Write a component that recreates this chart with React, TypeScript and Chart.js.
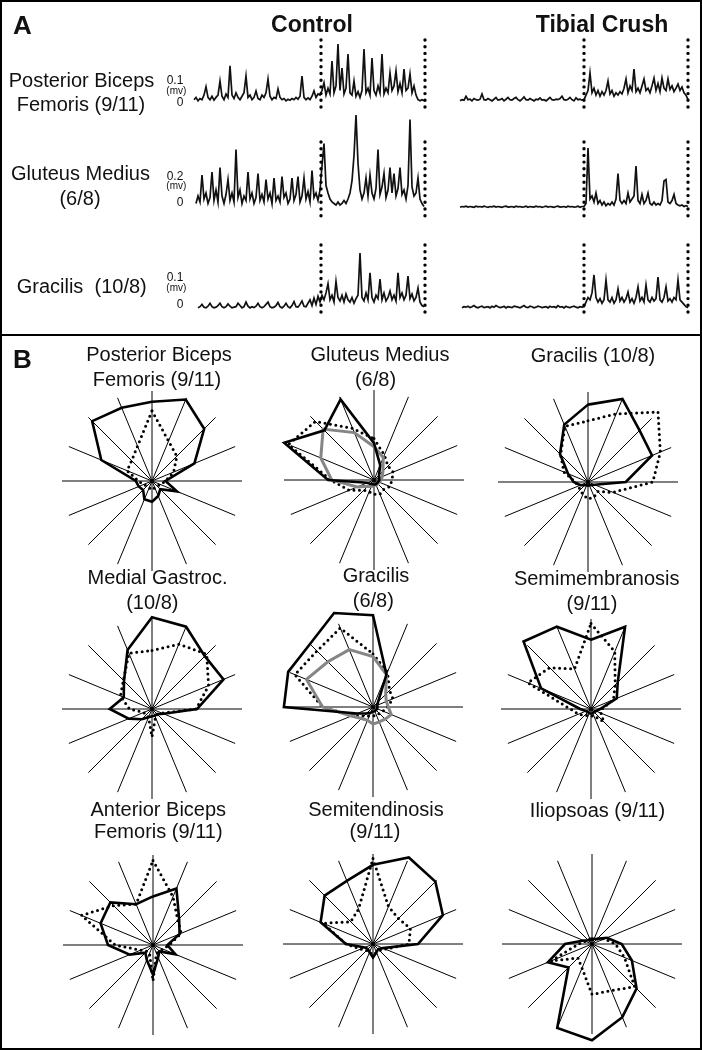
import React, { useEffect, useRef } from 'react';
import { Chart, registerables } from 'chart.js';

Chart.register(...registerables);

const FONT = '"Liberation Sans", Arial, Helvetica, sans-serif';

// ---------------- Panel A : EMG traces (values in mV, one sample every 2 px) ----------------
const CTRL_PBF = [0.01,0.02,0.005,0.015,0.01,0.03,0.066,0.02,0.01,0.025,
  0.008,0.02,0.03,0.091,0.025,0.01,0.035,0.02,0.157,0.03,
  0.015,0.04,0.02,0.01,0.025,0.04,0.113,0.02,0.03,0.01,
  0.02,0.048,0.015,0.01,0.03,0.02,0.04,0.10,0.025,0.01,
  0.02,0.015,0.057,0.02,0.01,0.015,0.005,0.012,0.008,0.015,
  0.01,0.02,0.012,0.025,0.113,0.02,0.01,0.018,0.01,0.025,
  0.048,0.02,0.035,0.03,0.05,0.083,0.03,0.06,0.035,0.178,
  0.04,0.07,0.252,0.05,0.148,0.035,0.06,0.209,0.04,0.03,
  0.091,0.025,0.045,0.02,0.05,0.23,0.04,0.06,0.03,0.191,
  0.05,0.03,0.07,0.04,0.209,0.035,0.06,0.04,0.126,0.05,
  0.07,0.135,0.045,0.08,0.04,0.143,0.05,0.06,0.122,0.04,
  0.07,0.03,0.01,0.005,0.01,0.005];
const TIB_PBF = [0.005,0.01,0.008,0.025,0.01,0.012,0.005,0.015,0.01,0.008,
  0.012,0.035,0.01,0.008,0.015,0.01,0.005,0.012,0.02,0.008,
  0.01,0.015,0.005,0.012,0.02,0.01,0.008,0.015,0.02,0.01,
  0.005,0.012,0.022,0.01,0.008,0.015,0.01,0.005,0.012,0.01,
  0.018,0.008,0.01,0.005,0.012,0.02,0.01,0.008,0.012,0.01,
  0.015,0.025,0.01,0.008,0.012,0.02,0.01,0.005,0.018,0.01,
  0.012,0.008,0.01,0.03,0.05,0.126,0.04,0.06,0.03,0.05,
  0.025,0.045,0.03,0.05,0.091,0.035,0.05,0.025,0.04,0.03,
  0.045,0.035,0.06,0.10,0.04,0.07,0.05,0.143,0.045,0.06,
  0.04,0.07,0.10,0.05,0.06,0.04,0.07,0.104,0.05,0.08,
  0.045,0.104,0.06,0.05,0.10,0.055,0.07,0.045,0.06,0.078,
  0.05,0.065,0.04,0.03,0.01];
const CTRL_GMED = [null,0.03,0.08,0.04,0.22,0.06,0.1,0.03,0.07,0.24,
  0.05,0.12,0.04,0.27,0.08,0.03,0.09,0.19,0.05,0.1,
  0.04,0.39,0.07,0.12,0.03,0.08,0.05,0.24,0.06,0.1,
  0.03,0.07,0.23,0.05,0.09,0.04,0.19,0.06,0.1,0.03,
  0.2,0.05,0.08,0.04,0.21,0.07,0.1,0.03,0.06,0.2,
  0.05,0.09,0.21,0.04,0.08,0.2,0.06,0.11,0.04,0.25,
  0.07,0.1,0.05,0.12,0.28,0.43,0.15,0.1,0.06,0.04,
  0.03,0.02,0.04,0.02,0.03,0.05,0.03,0.06,0.1,0.18,
  0.35,0.62,0.3,0.12,0.06,0.1,0.2,0.08,0.22,0.1,
  0.06,0.13,0.39,0.09,0.14,0.23,0.07,0.12,0.27,0.1,
  0.23,0.08,0.13,0.27,0.09,0.12,0.06,0.15,0.59,0.14,
  0.08,0.1,0.2,0.06,0.03,0.01];
const TIB_GMED = [0.005,0.01,0.008,0.012,0.006,0.01,0.008,0.005,0.012,0.008,
  0.01,0.006,0.012,0.008,0.005,0.01,0.008,0.012,0.006,0.01,
  0.008,0.005,0.01,0.012,0.006,0.008,0.01,0.005,0.012,0.008,
  0.01,0.006,0.008,0.012,0.005,0.01,0.008,0.006,0.012,0.008,
  0.01,0.005,0.008,0.012,0.006,0.01,0.008,0.005,0.01,0.012,
  0.006,0.008,0.01,0.005,0.012,0.008,0.01,0.006,0.008,0.012,
  0.005,0.01,0.01,0.03,0.40,0.06,0.08,0.04,0.1,0.03,
  0.05,0.02,0.04,0.015,0.03,0.02,0.04,0.02,0.06,0.23,
  0.05,0.03,0.05,0.03,0.1,0.04,0.06,0.08,0.28,0.05,
  0.03,0.09,0.03,0.05,0.1,0.03,0.02,0.04,0.02,0.03,
  0.02,0.05,0.18,0.19,0.04,0.03,0.05,0.09,0.03,0.02,
  0.015,0.02,0.01,0.015,0.01];
const CTRL_GRAC = [null,null,0.005,0.01,0.02,0.008,0.005,0.012,0.025,0.01,
  0.005,0.008,0.015,0.025,0.01,0.005,0.01,0.022,0.012,0.005,
  0.008,0.01,0.025,0.015,0.005,0.01,0.03,0.012,0.005,0.01,
  0.006,0.012,0.025,0.01,0.005,0.01,0.02,0.03,0.01,0.005,
  0.008,0.015,0.028,0.01,0.005,0.012,0.025,0.01,0.005,0.015,
  0.032,0.01,0.008,0.02,0.035,0.012,0.01,0.025,0.04,0.015,
  0.048,0.02,0.055,0.03,0.06,0.04,0.07,0.11,0.04,0.06,
  0.03,0.12,0.05,0.035,0.06,0.03,0.065,0.04,0.03,0.05,
  0.025,0.045,0.06,0.243,0.05,0.035,0.07,0.04,0.157,0.05,
  0.03,0.06,0.045,0.13,0.04,0.07,0.035,0.05,0.078,0.04,
  0.06,0.035,0.157,0.05,0.07,0.04,0.06,0.143,0.045,0.065,
  0.035,0.05,0.091,0.03,0.015,0.01];
const TIB_GRAC = [null,0.005,0.01,0.008,0.012,0.006,0.01,0.015,0.008,0.005,
  0.01,0.012,0.006,0.008,0.01,0.005,0.012,0.008,0.015,0.01,
  0.006,0.008,0.012,0.005,0.01,0.008,0.006,0.012,0.01,0.008,
  0.005,0.01,0.015,0.008,0.006,0.012,0.01,0.005,0.008,0.012,
  0.01,0.006,0.008,0.01,0.005,0.012,0.008,0.01,0.006,0.015,
  0.008,0.01,0.005,0.012,0.008,0.006,0.01,0.012,0.008,0.005,
  0.01,0.008,0.01,0.03,0.05,0.04,0.07,0.148,0.05,0.03,
  0.045,0.025,0.04,0.126,0.04,0.03,0.05,0.025,0.04,0.087,
  0.035,0.05,0.03,0.045,0.074,0.03,0.045,0.025,0.05,0.096,
  0.035,0.05,0.03,0.104,0.04,0.03,0.05,0.035,0.045,0.139,
  0.04,0.03,0.05,0.096,0.035,0.045,0.03,0.05,0.04,0.126,
  0.04,0.03,0.02,0.01,0.005];

// gait-cycle event markers (sample index)
const CTRL_MARKERS = [63.5, 115.5];
const TIB_MARKERS = [62, 114];

// ---------------- Panel B : polar plots (16 directions, clockwise from top) ----------------
const DIRECTIONS = ['90°','67.5°','45°','22.5°','0°','-22.5°','-45°','-67.5°','-90°','-112.5°','-135°','-157.5°','180°','157.5°','135°','112.5°'];

const PBF_SOLID = [8.8, 9.8, 8.2, 5.1, 1.5, 3.0, 1.3, 1.8, 2.3, 2.2, 1.4, 1.6, 1.8, 6.1, 9.4, 8.8];
const PBF_DOTTED = [7.8, 4.8, 3.9, 2.6, 1.5, 1.0, 0.8, 0.8, 1.0, 0.8, 0.8, 1.0, 1.5, 3.0, 3.2, 4.2];
const GMED_SOLID = [4.1, 1.8, 0.8, 0.6, 0.6, 0.5, 0.5, 0.5, 0.5, 0.5, 0.6, 0.8, 5.1, 10.8, 7.8, 9.7];
const GMED_GRAY = [3.7, 2.7, 1.4, 1.0, 0.8, 0.6, 0.6, 0.6, 0.6, 0.8, 1.0, 2.0, 4.7, 6.4, 8.0, 5.7];
const GMED_DOTTED = [4.6, 3.0, 2.2, 2.3, 2.0, 1.9, 1.5, 1.7, 1.6, 1.4, 1.6, 3.0, 4.8, 10.3, 9.2, 6.2];
const GRAC10_SOLID = [8.6, 10.0, 8.1, 7.7, 4.2, 0.8, 0.5, 0.4, 0.4, 0.4, 0.5, 0.9, 1.6, 2.4, 4.4, 6.9];
const GRAC10_DOTTED = [6.8, 8.2, 11.0, 8.7, 7.2, 3.0, 1.5, 1.8, 1.9, 1.5, 1.2, 1.2, 1.4, 2.9, 4.3, 6.7];
const MG_SOLID = [10.2, 9.9, 8.3, 8.6, 5.0, 1.4, 0.8, 0.8, 0.8, 1.0, 1.6, 2.8, 4.7, 3.4, 4.4, 7.1];
const MG_DOTTED = [6.5, 7.8, 8.6, 6.8, 4.9, 1.2, 0.9, 1.0, 3.1, 1.0, 0.9, 1.0, 2.5, 3.8, 4.5, 6.7];
const GRAC6_SOLID = [10.2, 3.9, 0.8, 0.5, 0.5, 0.5, 0.5, 0.5, 0.5, 0.7, 1.0, 1.9, 9.9, 10.2, 9.9, 11.3];
const GRAC6_GRAY = [5.6, 3.9, 2.0, 1.6, 1.7, 2.2, 1.9, 1.8, 1.9, 1.6, 1.8, 2.6, 5.6, 8.0, 7.1, 6.9];
const GRAC6_DOTTED = [5.9, 4.2, 2.6, 2.4, 1.6, 1.2, 1.0, 1.0, 1.0, 1.1, 1.4, 2.5, 5.6, 9.4, 8.8, 9.5];
const SEMIM_SOLID = [7.7, 9.9, 4.2, 3.1, 1.0, 0.6, 0.5, 0.5, 0.5, 0.5, 0.5, 0.6, 1.2, 6.0, 10.6, 9.9];
const SEMIM_DOTTED = [9.5, 6.9, 3.8, 2.7, 1.2, 1.2, 2.0, 0.8, 0.8, 0.8, 1.0, 1.5, 2.3, 7.6, 6.5, 4.8];
const ABF_SOLID = [5.4, 6.8, 4.1, 3.2, 1.6, 2.7, 1.0, 1.5, 3.3, 1.8, 1.2, 2.8, 5.0, 6.3, 6.7, 4.9];
const ABF_DOTTED = [9.4, 5.8, 3.9, 3.4, 1.8, 1.2, 1.0, 1.0, 4.0, 1.0, 1.0, 1.5, 4.2, 8.6, 6.2, 4.9];
const SEMIT_SOLID = [8.8, 10.4, 9.8, 8.4, 5.0, 1.2, 0.8, 1.0, 1.5, 1.0, 0.8, 1.0, 3.0, 6.3, 7.6, 7.6];
const SEMIT_DOTTED = [9.5, 4.5, 4.0, 4.5, 4.0, 1.5, 1.0, 1.0, 1.2, 1.0, 1.0, 1.5, 3.0, 6.0, 3.5, 4.2];
const ILIO_SOLID = [0.6, 0.6, 0.8, 1.8, 3.3, 4.8, 7.0, 8.8, 10.7, 10.1, 3.7, 5.3, 3.0, 1.0, 0.6, 0.6];
const ILIO_DOTTED = [0.5, 0.5, 0.8, 1.5, 2.6, 3.9, 6.7, 5.6, 5.6, 2.9, 2.2, 4.9, 1.5, 0.8, 0.5, 0.5];

// ---------------- layout ----------------
const ROWS = [
  { top: 34, height: 84, zeroY: 102, ppu: 230, mTop: 40, mBottom: 113 },
  { top: 108, height: 114, zeroY: 208, ppu: 150, mTop: 142, mBottom: 217 },
  { top: 238, height: 84, zeroY: 309, ppu: 230, mTop: 245, mBottom: 318 },
];
const CTRL_COL = { left: 192, width: 236, xMax: 117, markers: CTRL_MARKERS };
const TIB_COL = { left: 458, width: 234, xMax: 116, markers: TIB_MARKERS };

function markerPlugin(markers: number[], y0: number, y1: number) {
  return {
    id: 'gaitMarkers',
    afterDatasetsDraw(chart: any) {
      const { ctx } = chart;
      const xs = chart.scales.x;
      ctx.save();
      ctx.strokeStyle = '#000';
      ctx.lineWidth = 3.4;
      ctx.lineCap = 'round';
      ctx.setLineDash([0, 6.7]);
      markers.forEach((m) => {
        const px = xs.getPixelForValue(m);
        ctx.beginPath();
        ctx.moveTo(px, y0);
        ctx.lineTo(px, y1);
        ctx.stroke();
      });
      ctx.restore();
    },
  };
}

function traceConfig(values: (number | null)[], col: any, row: any) {
  const ymax = (row.zeroY - row.top) / row.ppu;
  const ymin = (row.zeroY - row.top - row.height) / row.ppu;
  return {
    type: 'line',
    data: {
      datasets: [{
        data: values.map((v, i) => ({ x: i, y: v })),
        borderColor: '#111',
        borderWidth: 1.7,
        pointRadius: 0,
        tension: 0,
        fill: false,
      }],
    },
    options: {
      animation: false,
      responsive: false,
      events: [],
      layout: { padding: 0 },
      plugins: { legend: { display: false }, tooltip: { enabled: false } },
      scales: {
        x: { type: 'linear', min: -1, max: col.xMax, display: false },
        y: { min: ymin, max: ymax, display: false },
      },
    },
    plugins: [markerPlugin(col.markers, row.mTop - row.top, row.mBottom - row.top)],
  };
}

const SOLID = { borderColor: '#000', borderWidth: 2.6 };
const GRAY = { borderColor: '#858585', borderWidth: 3 };
const DOTTED = { borderColor: '#000', borderWidth: 3, borderDash: [0, 5.5], borderCapStyle: 'round' };

function polarConfig(series: { values: number[]; style: any }[]) {
  return {
    type: 'radar',
    data: {
      labels: DIRECTIONS,
      datasets: series.map((s) => ({
        data: s.values,
        fill: false,
        pointRadius: 0,
        clip: false,
        borderJoinStyle: 'miter',
        ...s.style,
      })),
    },
    options: {
      animation: false,
      responsive: false,
      events: [],
      layout: { padding: 22 },
      plugins: { legend: { display: false }, tooltip: { enabled: false } },
      scales: {
        r: {
          min: 0,
          max: 10,
          ticks: { display: false },
          grid: { display: false },
          angleLines: { display: true, color: '#000', lineWidth: 1 },
          pointLabels: { display: false },
        },
      },
    },
  };
}

function ChartBox({ left, top, width, height, config }: any) {
  const ref = useRef<HTMLCanvasElement>(null);
  useEffect(() => {
    const chart = new Chart(ref.current as HTMLCanvasElement, config() as any);
    return () => chart.destroy();
  }, []);
  return (
    <canvas
      ref={ref}
      width={width}
      height={height}
      style={{ position: 'absolute', left, top, width, height }}
    />
  );
}

function Txt({ x, base, size = 20, bold = false, align = 'center', children }: any) {
  const w = 400;
  const left = align === 'center' ? x - w / 2 : align === 'right' ? x - w : x;
  return (
    <div
      style={{
        position: 'absolute', left, top: base - size * 0.8465, width: w,
        fontSize: size, lineHeight: size + 'px', fontFamily: FONT,
        fontWeight: bold ? 700 : 400, textAlign: align, whiteSpace: 'pre', color: '#111',
      }}
    >
      {children}
    </div>
  );
}

const POLARS = [
  { cx: 152, cy: 481, series: [{ values: PBF_SOLID, style: SOLID }, { values: PBF_DOTTED, style: DOTTED }] },
  { cx: 374, cy: 480, series: [{ values: GMED_SOLID, style: SOLID }, { values: GMED_GRAY, style: GRAY }, { values: GMED_DOTTED, style: DOTTED }] },
  { cx: 588, cy: 482, series: [{ values: GRAC10_SOLID, style: SOLID }, { values: GRAC10_DOTTED, style: DOTTED }] },
  { cx: 152, cy: 709, series: [{ values: MG_SOLID, style: SOLID }, { values: MG_DOTTED, style: DOTTED }] },
  { cx: 373, cy: 707, series: [{ values: GRAC6_SOLID, style: SOLID }, { values: GRAC6_GRAY, style: GRAY }, { values: GRAC6_DOTTED, style: DOTTED }] },
  { cx: 591, cy: 709, series: [{ values: SEMIM_SOLID, style: SOLID }, { values: SEMIM_DOTTED, style: DOTTED }] },
  { cx: 153, cy: 945, series: [{ values: ABF_SOLID, style: SOLID }, { values: ABF_DOTTED, style: DOTTED }] },
  { cx: 373, cy: 944, series: [{ values: SEMIT_SOLID, style: SOLID }, { values: SEMIT_DOTTED, style: DOTTED }] },
  { cx: 592, cy: 944, series: [{ values: ILIO_SOLID, style: SOLID }, { values: ILIO_DOTTED, style: DOTTED }] },
];

const TRACES = [
  { values: CTRL_PBF, col: CTRL_COL, row: ROWS[0] },
  { values: TIB_PBF, col: TIB_COL, row: ROWS[0] },
  { values: CTRL_GMED, col: CTRL_COL, row: ROWS[1] },
  { values: TIB_GMED, col: TIB_COL, row: ROWS[1] },
  { values: CTRL_GRAC, col: CTRL_COL, row: ROWS[2] },
  { values: TIB_GRAC, col: TIB_COL, row: ROWS[2] },
];

export default function App() {
  return (
    <div style={{ position: 'absolute', left: 0, top: 0, width: 702, height: 1050, background: '#fff', overflow: 'hidden' }}>
      {TRACES.map((t, i) => (
        <ChartBox key={'t' + i} left={t.col.left} top={t.row.top} width={t.col.width} height={t.row.height}
          config={() => traceConfig(t.values, t.col, t.row)} />
      ))}
      {POLARS.map((p, i) => (
        <ChartBox key={'p' + i} left={p.cx - 112} top={p.cy - 112} width={224} height={224}
          config={() => polarConfig(p.series)} />
      ))}

      {/* frame */}
      <div style={{ position: 'absolute', left: 0, top: 0, width: 702, height: 1050, boxSizing: 'border-box', border: '2px solid #000' }} />
      <div style={{ position: 'absolute', left: 0, top: 334, width: 702, height: 2, background: '#000' }} />

      {/* Panel A text */}
      <Txt x={13} base={34} size={26} bold align="left">A</Txt>
      <Txt x={312} base={32} size={23} bold>Control</Txt>
      <Txt x={602} base={32} size={23} bold>Tibial Crush</Txt>
      <Txt x={81.5} base={87}>Posterior Biceps</Txt>
      <Txt x={81} base={111}>Femoris (9/11)</Txt>
      <Txt x={80.5} base={180}>Gluteus Medius</Txt>
      <Txt x={80} base={205}>(6/8)</Txt>
      <Txt x={81.7} base={293}>{'Gracilis  (10/8)'}</Txt>

      <Txt x={175} base={84} size={12}>0.1</Txt>
      <Txt x={176.3} base={94.5} size={10}>(mv)</Txt>
      <Txt x={180} base={106} size={12}>0</Txt>
      <Txt x={175} base={180.5} size={12}>0.2</Txt>
      <Txt x={176.3} base={189.5} size={10}>(mv)</Txt>
      <Txt x={180} base={206.5} size={12}>0</Txt>
      <Txt x={175} base={281.5} size={12}>0.1</Txt>
      <Txt x={176.3} base={291} size={10}>(mv)</Txt>
      <Txt x={180} base={308} size={12}>0</Txt>

      {/* Panel B text */}
      <Txt x={13} base={368} size={26} bold align="left">B</Txt>
      <Txt x={159} base={361}>Posterior Biceps</Txt>
      <Txt x={157} base={386}>Femoris (9/11)</Txt>
      <Txt x={380} base={361}>Gluteus Medius</Txt>
      <Txt x={375.5} base={386}>(6/8)</Txt>
      <Txt x={593} base={362}>Gracilis (10/8)</Txt>

      <Txt x={157.5} base={584}>Medial Gastroc.</Txt>
      <Txt x={152.3} base={609}>(10/8)</Txt>
      <Txt x={376} base={582}>Gracilis</Txt>
      <Txt x={373.3} base={607}>(6/8)</Txt>
      <Txt x={596.7} base={585}>Semimembranosis</Txt>
      <Txt x={592} base={610}>(9/11)</Txt>

      <Txt x={158.3} base={816}>Anterior Biceps</Txt>
      <Txt x={158.3} base={838}>Femoris (9/11)</Txt>
      <Txt x={376} base={816}>Semitendinosis</Txt>
      <Txt x={375} base={838}>(9/11)</Txt>
      <Txt x={597.5} base={817}>Iliopsoas (9/11)</Txt>
    </div>
  );
}
